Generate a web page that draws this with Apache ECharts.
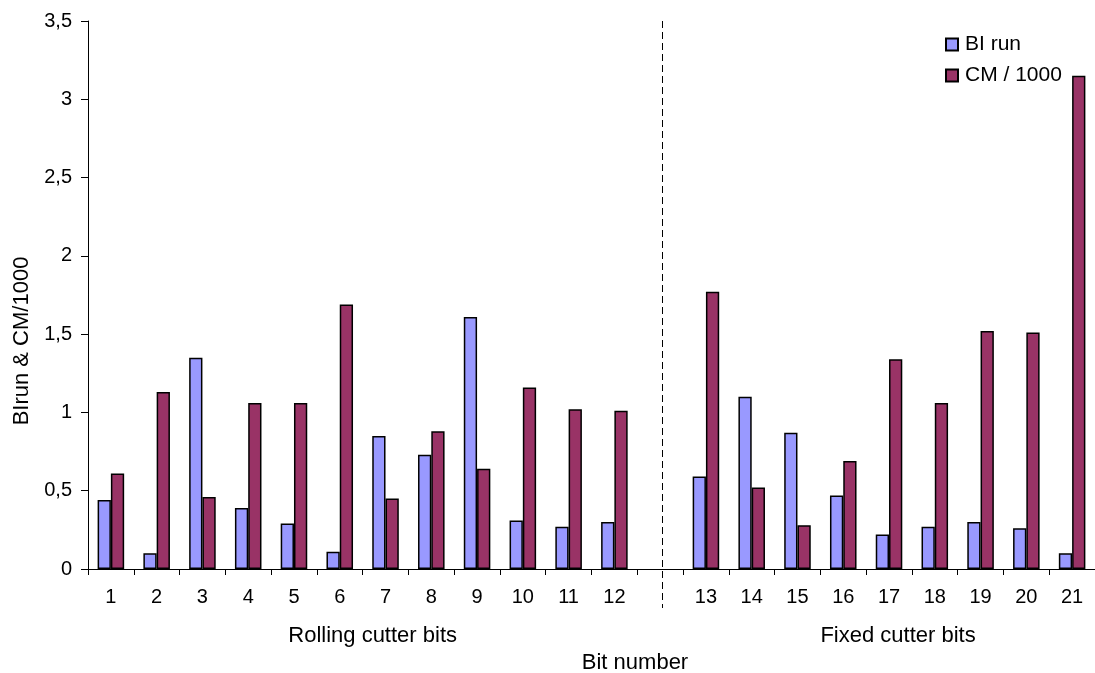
<!DOCTYPE html>
<html>
<head>
<meta charset="utf-8">
<script src="https://cdn.jsdelivr.net/npm/echarts@6/dist/echarts.min.js"></script>
<style>
  html, body { margin: 0; padding: 0; background: #fff; }
  #chart { width: 1095px; height: 673px; }
</style>
</head>
<body>
<div id="chart"></div>
<script>
// Bit numbers; the empty slot separates rolling from fixed cutter bits
const categories = ['1','2','3','4','5','6','7','8','9','10','11','12','',
                    '13','14','15','16','17','18','19','20','21'];
const biRun = [0.44, 0.10, 1.35, 0.39, 0.29, 0.11, 0.85, 0.73, 1.61, 0.31, 0.27, 0.30, null,
               0.59, 1.10, 0.87, 0.47, 0.22, 0.27, 0.30, 0.26, 0.10];
const cmPer1000 = [0.61, 1.13, 0.46, 1.06, 1.06, 1.69, 0.45, 0.88, 0.64, 1.16, 1.02, 1.01, null,
                   1.77, 0.52, 0.28, 0.69, 1.34, 1.06, 1.52, 1.51, 3.15];
const yTicks = ['0', '0,5', '1', '1,5', '2', '2,5', '3', '3,5'];
const groupNames = ['Rolling cutter bits', 'Fixed cutter bits'];

const FONT = '"Liberation Sans", Arial, sans-serif';
const chart = echarts.init(document.getElementById('chart'), null, { renderer: 'canvas' });

const option = {
  animation: false,
  backgroundColor: '#ffffff',
  textStyle: { fontFamily: FONT, color: '#000' },
  grid: { left: 88, right: -3, top: 21, bottom: 104, containLabel: false },
  legend: {
    orient: 'vertical',
    left: 940,
    top: 29,
    icon: 'rect',
    itemWidth: 12,
    itemHeight: 12,
    itemGap: 10,
    textStyle: { fontFamily: FONT, fontSize: 21, color: '#000', padding: [0, 0, 0, 2] },
    data: ['BI run', 'CM / 1000']
  },
  xAxis: {
    type: 'category',
    data: categories,
    boundaryGap: true,
    axisLine: { lineStyle: { color: '#000', width: 1 } },
    axisTick: { show: true, length: 6, inside: false, lineStyle: { color: '#000' } },
    axisLabel: { fontFamily: FONT, fontSize: 20, color: '#000', margin: 18, interval: 0 },
    splitLine: { show: false }
  },
  yAxis: {
    type: 'value',
    min: 0,
    max: 3.5,
    interval: 0.5,
    axisLine: { show: true, lineStyle: { color: '#000', width: 1 } },
    axisTick: { show: true, length: 7, lineStyle: { color: '#000' } },
    axisLabel: {
      fontFamily: FONT, fontSize: 20, color: '#000', margin: 16,
      formatter: (v) => yTicks[Math.round(v / 0.5)]
    },
    splitLine: { show: false }
  },
  series: [
    {
      name: 'BI run',
      type: 'bar',
      data: biRun,
      barWidth: '29%',
      barGap: '0%',
      itemStyle: { color: '#9999ff', borderColor: '#000', borderWidth: 1.5 }
    },
    {
      name: 'CM / 1000',
      type: 'bar',
      data: cmPer1000,
      barWidth: '29%',
      barGap: '0%',
      itemStyle: { color: '#993366', borderColor: '#000', borderWidth: 1.5 }
    }
  ]
};
chart.setOption(option);

// Separator, group captions and axis titles placed from the axis scale
const sepX = Math.round(chart.convertToPixel({ xAxisIndex: 0 }, 12) + 2) + 0.5;
const firstX = chart.convertToPixel({ xAxisIndex: 0 }, 0);
const lastRolling = chart.convertToPixel({ xAxisIndex: 0 }, 11);
const firstFixed = chart.convertToPixel({ xAxisIndex: 0 }, 13);
const lastFixed = chart.convertToPixel({ xAxisIndex: 0 }, 21);
const topY = chart.convertToPixel({ yAxisIndex: 0 }, 3.5);

chart.setOption({
  graphic: [
    {
      type: 'line',
      shape: { x1: sepX, y1: topY, x2: sepX, y2: 608 },
      style: { stroke: '#000', lineWidth: 1, lineDash: [7, 4] },
      silent: true
    },
    {
      type: 'text',
      x: (firstX + lastRolling) / 2 + 10, y: 636,
      style: { text: groupNames[0], font: '22px ' + FONT, fill: '#000', align: 'center', verticalAlign: 'middle' }
    },
    {
      type: 'text',
      x: (firstFixed + lastFixed) / 2 + 9, y: 636,
      style: { text: groupNames[1], font: '22px ' + FONT, fill: '#000', align: 'center', verticalAlign: 'middle' }
    },
    {
      type: 'text',
      x: 635, y: 663,
      style: { text: 'Bit number', font: '22px ' + FONT, fill: '#000', align: 'center', verticalAlign: 'middle' }
    },
    {
      type: 'text',
      x: 22, y: 341,
      rotation: Math.PI / 2,
      style: { text: 'BIrun & CM/1000', font: '22px ' + FONT, fill: '#000', align: 'center', verticalAlign: 'middle' }
    }
  ]
});
</script>
</body>
</html>
